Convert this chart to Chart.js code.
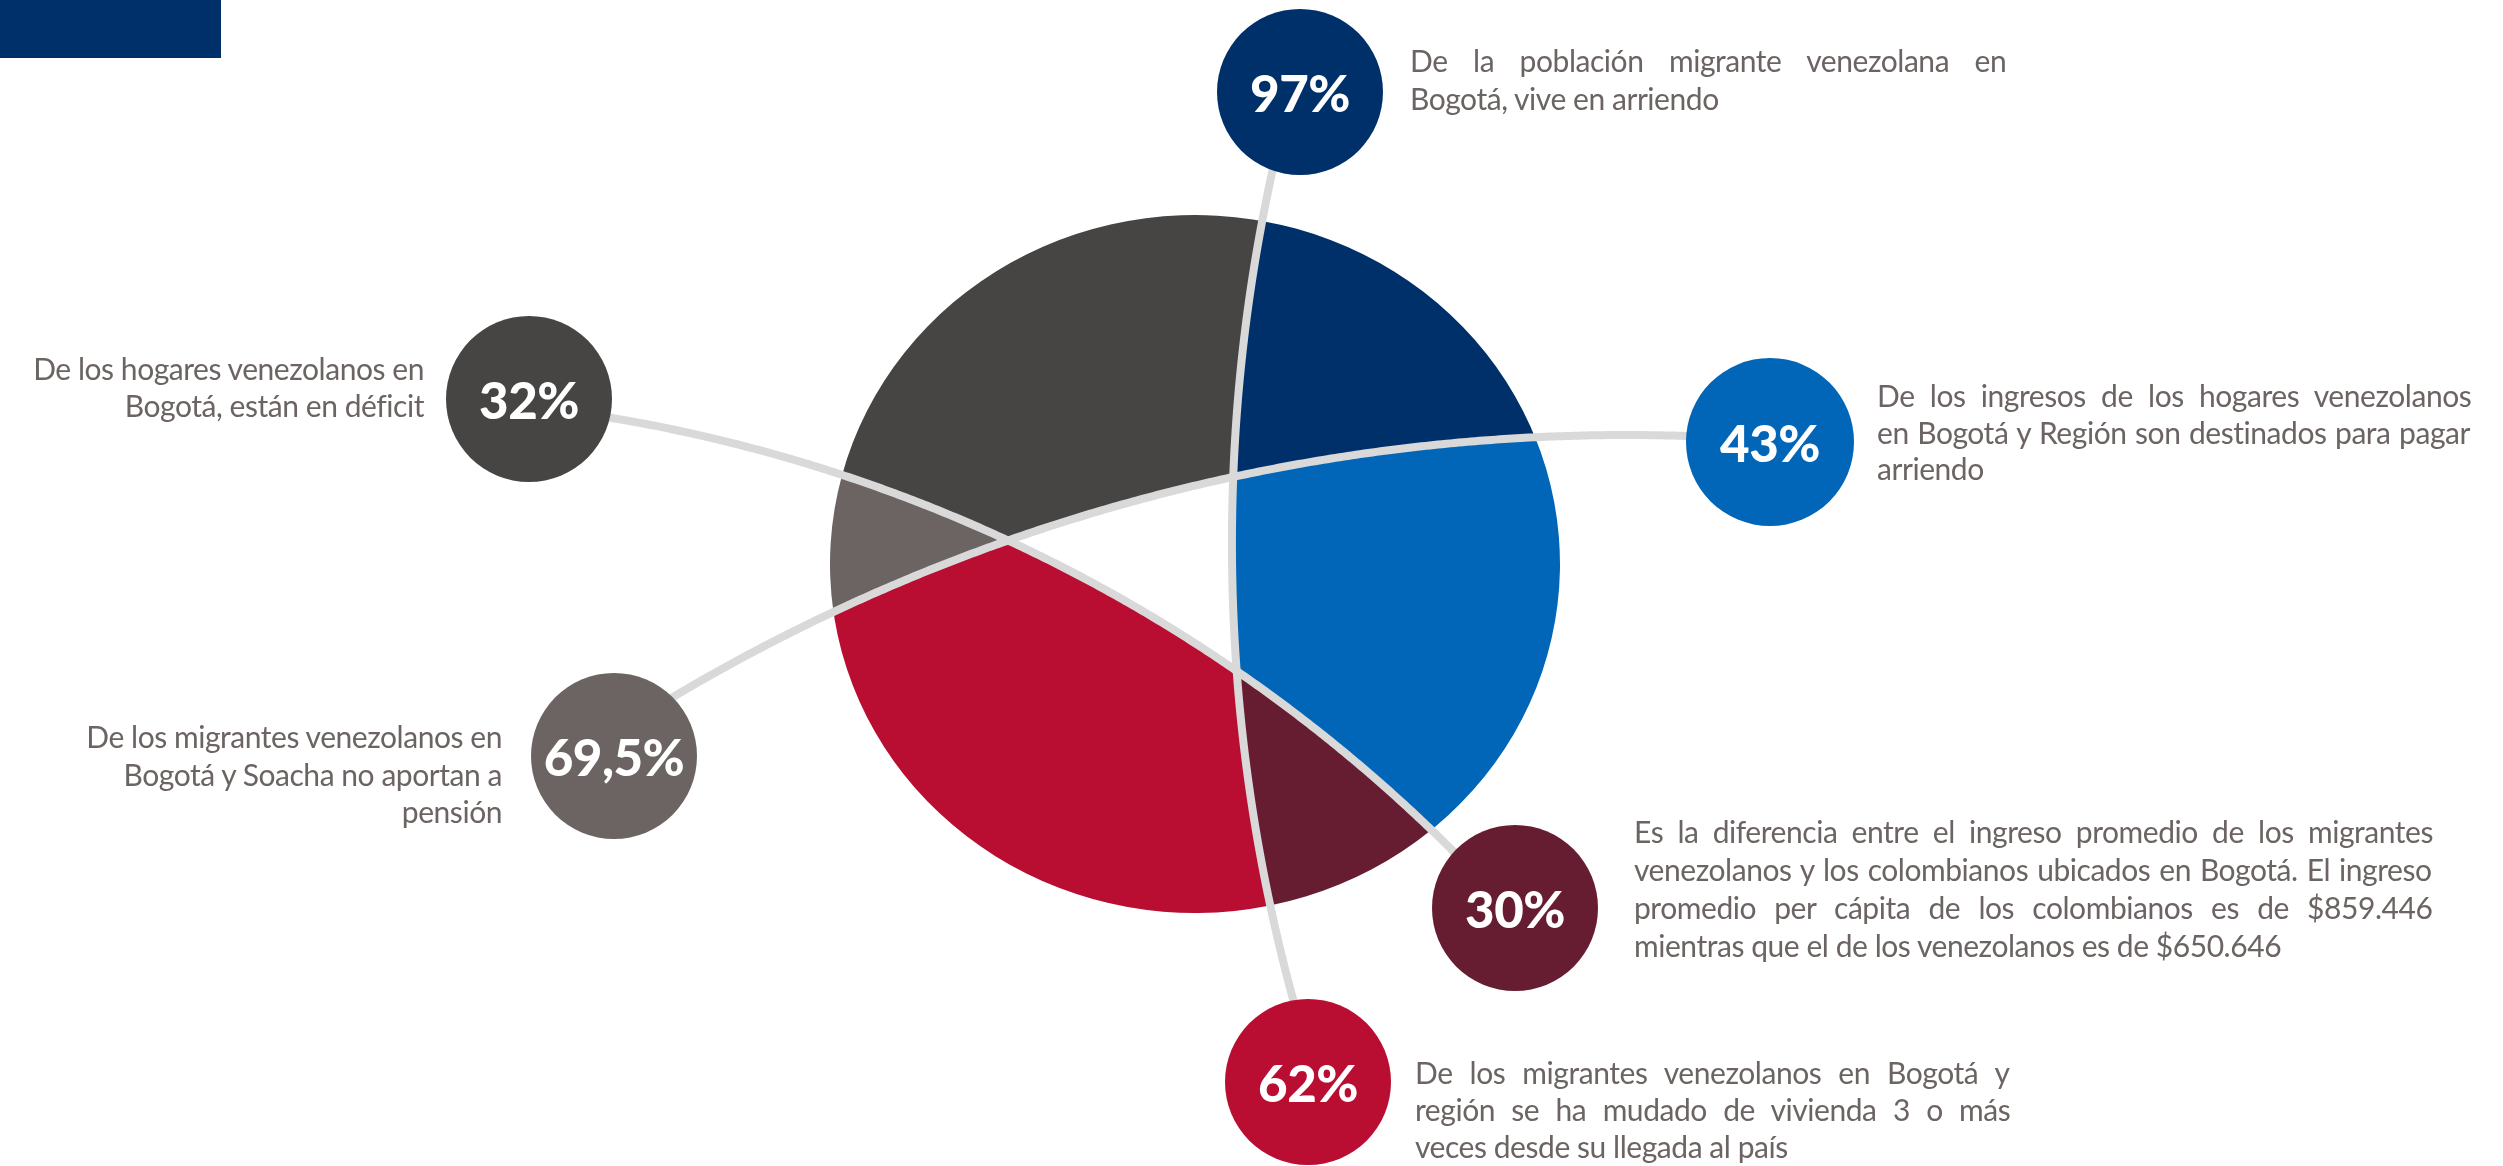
<!DOCTYPE html>
<html>
<head>
<meta charset="utf-8">
<script src="https://cdn.jsdelivr.net/npm/chart.js@4.4.1/dist/chart.umd.min.js"></script>
<style>
  html, body { margin: 0; padding: 0; background: #ffffff; width: 2503px; height: 1166px; overflow: hidden; }
  #wrap { position: relative; width: 2503px; height: 1166px; }
  #chart { position: absolute; left: 0; top: 0; }
  .bar { position: absolute; left: 0; top: 0; width: 221px; height: 58px; background: #00306a; }
  .badge { position: absolute; border-radius: 50%; display: flex; align-items: center; justify-content: center;
           color: #ffffff; font-family: Lato, "Open Sans", sans-serif; font-weight: 900; font-size: 51px; letter-spacing: -0.5px; line-height: 1; }
  .txt { position: absolute; font-family: Lato, "Open Sans", sans-serif; font-size: 30px; letter-spacing: -0.45px; color: #6b6462; }
  .txt .ln { display: block; white-space: nowrap; }
</style>
</head>
<body>
<div id="wrap">
  <canvas id="chart" width="2503" height="1166"></canvas>
  <div class="bar"></div>
</div>
<script>
// ---------- DATA ----------
const regionLabels = ['Vive en arriendo', 'Ingresos para arriendo', 'Diferencia de ingreso', 'Mudanzas de vivienda', 'No aportan a pensión', 'Hogares en déficit'];
// share of the rim (degrees) covered by each coloured region
const regionShares = [58.0, 71.3, 28.3, 94.0, 22.6, 85.8];
const regionColors = ['#00306a', '#0266b8', '#661d32', '#b90e31', '#6c6462', '#474543'];
const calloutValues = [97, 43, 30, 62, 69.5, 32];
const calloutTexts = [
  ['De la población migrante venezolana en', 'Bogotá, vive en arriendo'],
  ['De los ingresos de los hogares venezolanos', 'en Bogotá y Región son destinados para pagar', 'arriendo'],
  ['Es la diferencia entre el ingreso promedio de los migrantes', 'venezolanos y los colombianos ubicados en Bogotá. El ingreso', 'promedio per cápita de los colombianos es de $859.446', 'mientras que el de los venezolanos es de $650.646'],
  ['De los migrantes venezolanos en Bogotá y', 'región se ha mudado de vivienda 3 o más', 'veces desde su llegada al país'],
  ['De los migrantes venezolanos en', 'Bogotá y Soacha no aportan a', 'pensión'],
  ['De los hogares venezolanos en', 'Bogotá, están en déficit']
];

// ---------- LAYOUT (positions / sizes) ----------
const badgeLayout = [
  {cx: 1300, cy: 92, r: 83}, {cx: 1770, cy: 442, r: 84}, {cx: 1515, cy: 908, r: 83},
  {cx: 1308, cy: 1082, r: 83}, {cx: 614, cy: 756, r: 83}, {cx: 529, cy: 399, r: 83}
];
const textLayout = [
  {left: 1410, top: 41, width: 597, lh: 38, align: 'justify'},
  {left: 1877, top: 377, width: 595, lh: 36.5, align: 'justify'},
  {left: 1634, top: 812, width: 799, lh: 38, align: 'justify'},
  {left: 1415, top: 1054, width: 596, lh: 37, align: 'justify'},
  {left: 0, top: 718, width: 502, lh: 37.5, align: 'right'},
  {left: 0, top: 350, width: 424, lh: 37, align: 'right'}
];
const textFontPx = 30, textLetterSpacing = -0.45;
// connector arcs (through three points each)
const connectorA = [[1272, 173], [1232, 530], [1278, 940]];   // 97% -> 62%
const connectorB = [[673, 697], [1233, 477], [1687, 436]];    // 69,5% -> 43%
const connectorC = [[612, 418], [1007, 540], [1452, 850]];    // 32% -> 30%
const discStretchX = 365 / 349;

// ---------- geometry helpers ----------
function circleFrom3(p1, p2, p3) {
  const [ax, ay] = p1, [bx, by] = p2, [cx, cy] = p3;
  const d = 2 * (ax * (by - cy) + bx * (cy - ay) + cx * (ay - by));
  const ux = ((ax*ax + ay*ay) * (by - cy) + (bx*bx + by*by) * (cy - ay) + (cx*cx + cy*cy) * (ay - by)) / d;
  const uy = ((ax*ax + ay*ay) * (cx - bx) + (bx*bx + by*by) * (ax - cx) + (cx*cx + cy*cy) * (bx - ax)) / d;
  return {x: ux, y: uy, r: Math.hypot(ax - ux, ay - uy)};
}
function arcPts(pts, ext) {
  const c = circleFrom3(pts[0], pts[1], pts[2]);
  const TAU = Math.PI * 2;
  const ang = p => Math.atan2(p[1] - c.y, p[0] - c.x);
  const a1 = ang(pts[0]), a2 = ang(pts[1]), a3 = ang(pts[2]);
  const mod = v => ((v % TAU) + TAU) % TAU;
  const d13 = mod(a3 - a1), d12 = mod(a2 - a1);
  let sign, span;
  if (d12 < d13) { sign = 1; span = d13; } else { sign = -1; span = TAU - d13; }
  const e = ext / c.r;
  const out = [];
  const N = 300;
  for (let i = 0; i <= N; i++) {
    const t = -e + (span + 2 * e) * i / N;
    const a = a1 + sign * t;
    out.push([c.x + c.r * Math.cos(a), c.y + c.r * Math.sin(a)]);
  }
  return out;
}
const BIG = 10000;
function sidePoly(p, side) {
  const f = p[0], l = p[p.length - 1];
  const res = p.slice();
  if (side === 'left')  res.push([l[0], BIG], [-BIG, BIG], [-BIG, -BIG], [f[0], -BIG]);
  if (side === 'right') res.push([l[0], BIG], [BIG, BIG], [BIG, -BIG], [f[0], -BIG]);
  if (side === 'above') res.push([BIG, l[1]], [BIG, -BIG], [-BIG, -BIG], [-BIG, f[1]]);
  if (side === 'below') res.push([BIG, l[1]], [BIG, BIG], [-BIG, BIG], [-BIG, f[1]]);
  return res;
}
function tracePoly(ctx, poly) {
  ctx.moveTo(poly[0][0], poly[0][1]);
  for (let i = 1; i < poly.length; i++) ctx.lineTo(poly[i][0], poly[i][1]);
  ctx.closePath();
}

const regionSides = [
  ['rightA', 'aboveB'],
  ['rightA', 'belowB', 'aboveC'],
  ['rightA', 'belowC'],
  ['leftA', 'belowB', 'belowC'],
  ['leftA', 'aboveB', 'belowC'],
  ['leftA', 'aboveB', 'aboveC']
];

const regionPlugin = {
  id: 'curvedRegions',
  beforeDatasetDraw() { return false; },
  afterDatasetsDraw(chart) {
    const ctx = chart.ctx;
    const meta = chart.getDatasetMeta(0);
    const A = arcPts(connectorA, 90), B = arcPts(connectorB, 90), C = arcPts(connectorC, 90);
    const sides = {
      leftA: sidePoly(A, 'left'), rightA: sidePoly(A, 'right'),
      aboveB: sidePoly(B, 'above'), belowB: sidePoly(B, 'below'),
      aboveC: sidePoly(C, 'above'), belowC: sidePoly(C, 'below')
    };
    meta.data.forEach((arc, i) => {
      ctx.save();
      regionSides[i].forEach(k => { ctx.beginPath(); tracePoly(ctx, sides[k]); ctx.clip(); });
      ctx.translate(arc.x, arc.y); ctx.scale(discStretchX, 1); ctx.translate(-arc.x, -arc.y);
      const s = arc.startAngle, e = arc.endAngle, c = arc.circumference;
      arc.endAngle = s + Math.PI * 2; arc.circumference = Math.PI * 2;
      arc.draw(ctx);
      arc.endAngle = e; arc.circumference = c;
      ctx.restore();
    });
    ctx.save();
    ctx.strokeStyle = '#d9d9d9';
    ctx.lineWidth = 8;
    ctx.lineJoin = 'round';
    [A, B, C].forEach(p => {
      ctx.beginPath();
      ctx.moveTo(p[0][0], p[0][1]);
      for (let i = 1; i < p.length; i++) ctx.lineTo(p[i][0], p[i][1]);
      ctx.stroke();
    });
    ctx.restore();
  }
};

new Chart(document.getElementById('chart'), {
  type: 'pie',
  data: {
    labels: regionLabels,
    datasets: [{ data: regionShares, backgroundColor: regionColors, borderWidth: 0, hoverOffset: 0 }]
  },
  options: {
    responsive: false,
    animation: false,
    rotation: 10.55,
    layout: { padding: { top: 215, bottom: 253, left: 846, right: 959 } },
    plugins: { legend: { display: false }, tooltip: { enabled: false } },
    events: []
  },
  plugins: [regionPlugin]
});

// ---------- callouts ----------
const wrap = document.getElementById('wrap');
const mctx = document.createElement('canvas').getContext('2d');
const fmt = v => String(v).replace('.', ',') + '%';
calloutValues.forEach((v, i) => {
  const b = badgeLayout[i];
  const d = document.createElement('div');
  d.className = 'badge';
  d.style.left = (b.cx - b.r) + 'px';
  d.style.top = (b.cy - b.r) + 'px';
  d.style.width = (2 * b.r) + 'px';
  d.style.height = (2 * b.r) + 'px';
  d.style.background = regionColors[i];
  d.textContent = fmt(v);
  wrap.appendChild(d);

  const L = textLayout[i];
  const t = document.createElement('div');
  t.className = 'txt';
  t.style.left = L.left + 'px';
  t.style.top = L.top + 'px';
  t.style.width = L.width + 'px';
  t.style.lineHeight = L.lh + 'px';
  t.style.textAlign = L.align === 'right' ? 'right' : 'left';
  const lines = calloutTexts[i];
  lines.forEach((ln, j) => {
    const s = document.createElement('span');
    s.className = 'ln';
    s.textContent = ln;
    if (L.align === 'justify' && j < lines.length - 1) {
      mctx.font = textFontPx + 'px Lato';
      const w = mctx.measureText(ln).width + textLetterSpacing * ln.length;
      const spaces = (ln.match(/ /g) || []).length;
      if (spaces > 0) s.style.wordSpacing = ((L.width - w) / spaces) + 'px';
    }
    t.appendChild(s);
  });
  wrap.appendChild(t);
});
</script>
</body>
</html>
